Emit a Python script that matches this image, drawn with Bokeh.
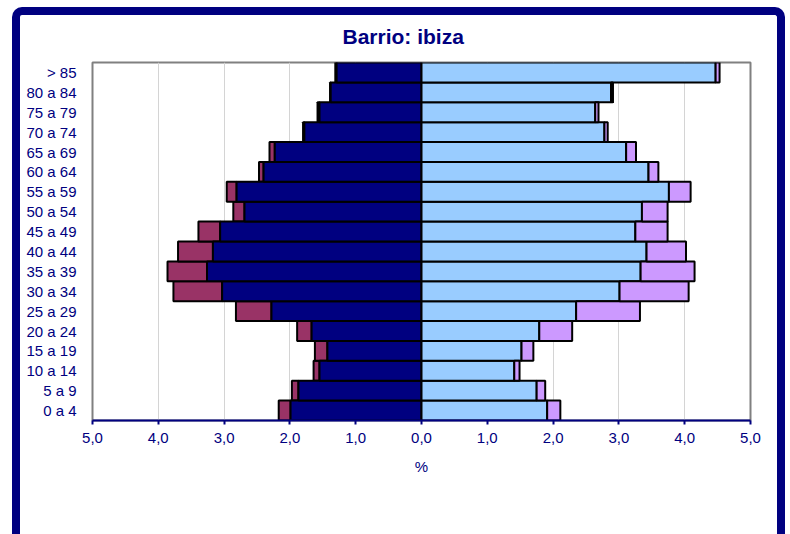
from bokeh.plotting import figure
from bokeh.models import ColumnDataSource, FixedTicker, FactorRange, Range1d, Title, InlineStyleSheet
from bokeh.embed import file_html
from bokeh.resources import INLINE

categories = ["0 a 4", "5 a 9", "10 a 14", "15 a 19", "20 a 24", "25 a 29", "30 a 34",
              "35 a 39", "40 a 44", "45 a 49", "50 a 54", "55 a 59", "60 a 64", "65 a 69",
              "70 a 74", "75 a 79", "80 a 84", "> 85"]
male_spanish = [1.99, 1.87, 1.55, 1.43, 1.67, 2.28, 3.03, 3.26, 3.17, 3.06, 2.69, 2.81, 2.40, 2.23, 1.78, 1.55, 1.38, 1.29]
male_foreign = [0.18, 0.10, 0.09, 0.19, 0.22, 0.54, 0.74, 0.60, 0.53, 0.33, 0.17, 0.15, 0.07, 0.08, 0.02, 0.03, 0.01, 0.02]
female_spanish = [1.91, 1.75, 1.41, 1.52, 1.79, 2.35, 3.01, 3.33, 3.42, 3.25, 3.35, 3.76, 3.45, 3.11, 2.78, 2.64, 2.88, 4.47]
female_foreign = [0.20, 0.13, 0.08, 0.18, 0.50, 0.97, 1.05, 0.82, 0.60, 0.49, 0.39, 0.33, 0.15, 0.15, 0.05, 0.05, 0.03, 0.06]
tick_values = [-5, -4, -3, -2, -1, 0, 1, 2, 3, 4, 5]
tick_labels = ["5,0", "4,0", "3,0", "2,0", "1,0", "0,0", "1,0", "2,0", "3,0", "4,0", "5,0"]
title_text = "Barrio: ibiza"

NAVY = "#000080"
FONT = "Liberation Sans"

src = ColumnDataSource(dict(
    cat=categories,
    m_es=[-v for v in male_spanish],
    m_tot=[-(a + b) for a, b in zip(male_spanish, male_foreign)],
    f_es=female_spanish,
    f_tot=[a + b for a, b in zip(female_spanish, female_foreign)],
    zero=[0] * len(categories),
))

p = figure(width=790, height=534, y_range=FactorRange(factors=categories),
           x_range=Range1d(-5, 5), output_backend="svg", toolbar_location=None,
           min_border_left=92, min_border_right=40, min_border_top=62, min_border_bottom=114)

p.background_fill_color = "white"
p.border_fill_color = "white"
p.outline_line_color = "#808080"
p.outline_line_width = 2

p.ygrid.visible = False
p.xgrid.ticker = FixedTicker(ticks=tick_values)
p.xgrid.grid_line_color = "#d4d4d4"
p.xgrid.grid_line_width = 1

common = dict(y="cat", height=1.0, line_color="black", line_width=2, source=src)
p.hbar(left="m_tot", right="m_es", fill_color="#993366", **common)
p.hbar(left="m_es", right="zero", fill_color="#000080", **common)
p.hbar(left="zero", right="f_es", fill_color="#99CCFF", **common)
p.hbar(left="f_es", right="f_tot", fill_color="#CC99FF", **common)

xa = p.xaxis[0]
xa.ticker = FixedTicker(ticks=tick_values)
xa.major_label_overrides = {v: l for v, l in zip(tick_values, tick_labels)}
xa.axis_line_color = NAVY
xa.axis_line_width = 2
xa.major_tick_line_color = NAVY
xa.major_tick_line_width = 2
xa.major_tick_in = 0
xa.major_tick_out = 4
xa.minor_tick_line_color = None
xa.major_label_text_color = NAVY
xa.major_label_text_font = FONT
xa.major_label_text_font_size = "15px"
xa.major_label_standoff = 8
xa.axis_label = "%"
xa.axis_label_text_font = FONT
xa.axis_label_text_font_size = "15px"
xa.axis_label_text_font_style = "normal"
xa.axis_label_text_color = NAVY
xa.axis_label_standoff = 12

ya = p.yaxis[0]
ya.axis_line_color = None
ya.major_tick_line_color = None
ya.minor_tick_line_color = None
ya.major_label_text_color = NAVY
ya.major_label_text_font = FONT
ya.major_label_text_font_size = "15px"
ya.major_label_standoff = 10

p.add_layout(Title(text=title_text, align="left", offset=250, standoff=29,
                   text_font=FONT, text_font_size="21px", text_font_style="bold",
                   text_color=NAVY), "above")

p.stylesheets = [InlineStyleSheet(css="""
:host::after {
  content: "";
  position: absolute;
  left: 12px;
  top: 7px;
  width: 773px;
  height: 527px;
  border: 8px solid #000080;
  border-bottom: none;
  border-radius: 10px 10px 0 0;
  box-sizing: border-box;
  pointer-events: none;
  z-index: 10;
}
""")]

open("out.html", "w").write(file_html(p, INLINE))
